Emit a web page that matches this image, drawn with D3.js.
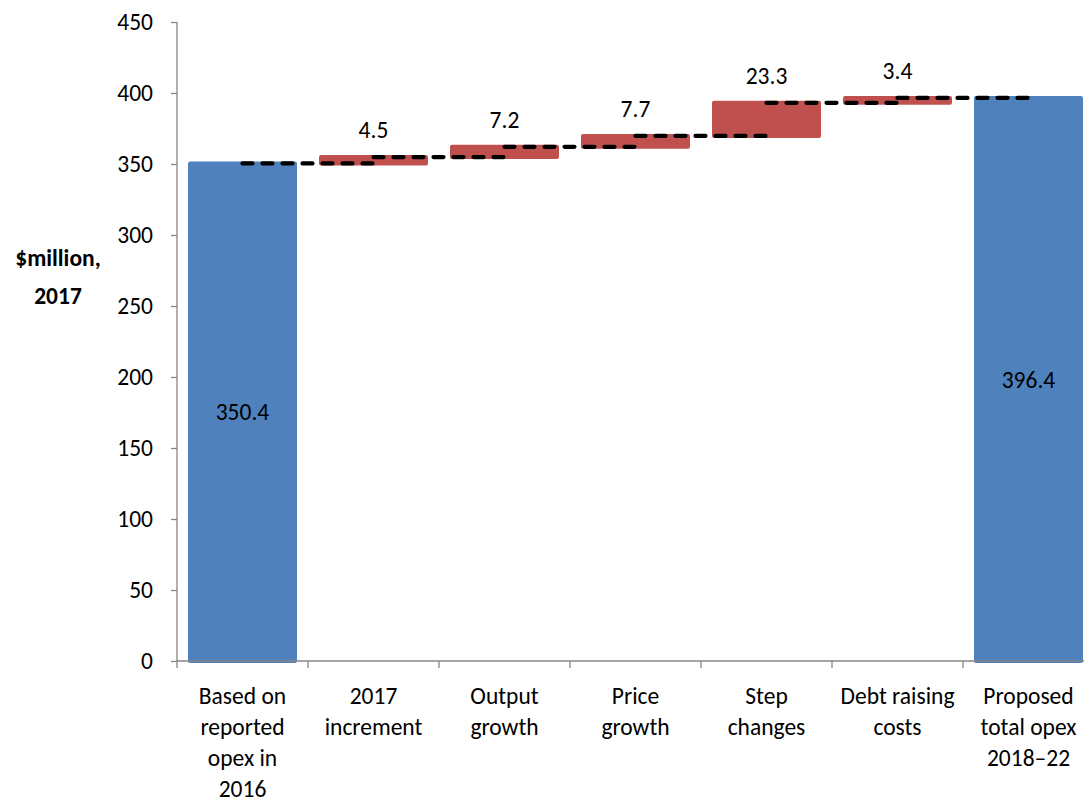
<!DOCTYPE html>
<html>
<head>
<meta charset="utf-8">
<script src="https://cdn.jsdelivr.net/npm/d3@7"></script>
<style>
  html, body { margin: 0; padding: 0; background: #fff; }
  svg { display: block; font-family: Carlito, Lato, "Open Sans", sans-serif; }
</style>
</head>
<body>
<svg id="chart" width="1084" height="803"></svg>
<script>
const categories = ["Based on reported opex in 2016", "2017 increment", "Output growth", "Price growth", "Step changes", "Debt raising costs", "Proposed total opex 2018–22"];
const categoryLines = [["Based on", "reported", "opex in", "2016"], ["2017", "increment"], ["Output", "growth"], ["Price", "growth"], ["Step", "changes"], ["Debt raising", "costs"], ["Proposed", "total opex", "2018–22"]];
const values = [350.4, 4.5, 7.2, 7.7, 23.3, 3.4, 396.4];
const barTypes = ["total", "increase", "increase", "increase", "increase", "increase", "total"];
const valueLabels = ["350.4", "4.5", "7.2", "7.7", "23.3", "3.4", "396.4"];
const yTicks = [0, 50, 100, 150, 200, 250, 300, 350, 400, 450];
const yTitle = ["$million,", "2017"];

const colors = { total: "#4F81BD", increase: "#C0504D" };
const axisColor = "#868686";
const fs = "23.5px";

const svg = d3.select("#chart");
const x = d3.scaleBand().domain(categories).range([177, 1094]).paddingInner(0.168).paddingOuter(0.084);
const y = d3.scaleLinear().domain([0, 450]).range([661, 22]);

// compute waterfall segments
let running = 0;
const bars = categories.map((c, i) => {
  let start, end;
  if (barTypes[i] === "total") { start = 0; end = values[i]; running = values[i]; }
  else { start = running; end = running + values[i]; running = end; }
  return { cat: c, start, end, type: barTypes[i], label: valueLabels[i] };
});

// bars
const sw = 4;
svg.append("g").selectAll("rect").data(bars).join("rect")
  .attr("x", d => x(d.cat) + sw / 2)
  .attr("width", x.bandwidth() - sw)
  .attr("y", d => y(d.end))
  .attr("height", d => Math.max(0.5, y(d.start) - y(d.end)))
  .attr("fill", d => colors[d.type])
  .attr("stroke", d => colors[d.type])
  .attr("stroke-width", sw)
  .attr("stroke-linejoin", "round");

// axes
const yAxis = svg.append("g").attr("transform", "translate(177,0)")
  .call(d3.axisLeft(y).tickValues(yTicks).tickSize(6).tickPadding(18).tickFormat(d3.format("d")));
yAxis.select(".domain").attr("stroke", axisColor).attr("stroke-width", 1.3).attr("d", `M-0,${y(0)}V${y(450)}`);
yAxis.selectAll(".tick line").attr("stroke", axisColor).attr("stroke-width", 1.3);
yAxis.selectAll(".tick text").attr("fill", "#000").style("font-size", fs).style("font-family", "Carlito, Lato, 'Open Sans', sans-serif");

const xAxisG = svg.append("g").attr("transform", `translate(0,${y(0)})`);
xAxisG.append("line").attr("x1", 177).attr("x2", 1094).attr("y1", 0).attr("y2", 0)
  .attr("stroke", axisColor).attr("stroke-width", 1.3);
const step = x.step();
const boundaries = categories.map((c, i) => x(c) - x.paddingInner() * step / 2).concat([x(categories[categories.length - 1]) + x.bandwidth() + x.paddingInner() * step / 2]);
xAxisG.selectAll("line.tk").data(boundaries).join("line").attr("class", "tk")
  .attr("x1", d => d).attr("x2", d => d).attr("y1", 0).attr("y2", 7)
  .attr("stroke", axisColor).attr("stroke-width", 1.3);
xAxisG.selectAll("text.cl").data(categories).join("text").attr("class", "cl")
  .attr("text-anchor", "middle")
  .attr("font-size", fs)
  .attr("fill", "#000")
  .each(function (c, i) {
    const t = d3.select(this);
    categoryLines[i].forEach((ln, k) => {
      t.append("tspan").attr("x", x(c) + x.bandwidth() / 2).attr("y", 43 + k * 31).text(ln);
    });
  });

// connectors
const conn = bars.slice(0, -1).map((b, i) => ({ level: b.end, from: b.cat, to: categories[i + 1] }));
svg.append("g").selectAll("line").data(conn).join("line")
  .attr("x1", d => x(d.from) + x.bandwidth() / 2)
  .attr("x2", d => x(d.to) + x.bandwidth() / 2)
  .attr("y1", d => y(d.level)).attr("y2", d => y(d.level))
  .attr("stroke", "#000").attr("stroke-width", 4.2)
  .attr("stroke-dasharray", "10 10").attr("stroke-linecap", "round");

// value labels
svg.append("g").selectAll("text").data(bars).join("text")
  .attr("text-anchor", "middle")
  .attr("font-size", fs)
  .attr("fill", "#000")
  .attr("x", d => x(d.cat) + x.bandwidth() / 2)
  .attr("y", d => d.type === "total" ? y(d.end / 2) : y(d.end) - 27)
  .attr("dy", "0.35em")
  .text(d => d.label);

// y title
svg.append("text").attr("text-anchor", "middle").attr("font-size", fs).attr("font-weight", "bold")
  .selectAll("tspan").data(yTitle).join("tspan")
  .attr("x", 58).attr("y", (d, i) => 266 + i * 38).text(d => d);
</script>
</body>
</html>
